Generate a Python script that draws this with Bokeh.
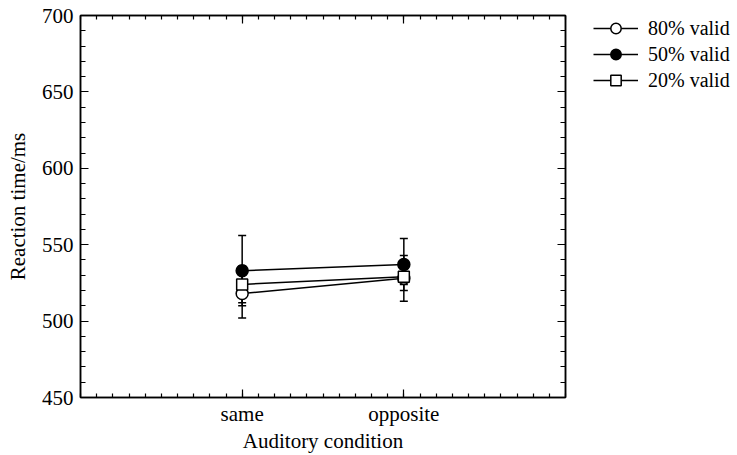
from bokeh.plotting import figure
from bokeh.layouts import row
from bokeh.models import (Range1d, FixedTicker, LinearAxis, Whisker, TeeHead,
                          ColumnDataSource, Legend, LegendItem, SingleIntervalTicker)
from bokeh.embed import file_html
from bokeh.resources import INLINE

# ---- data ----
conditions = ["same", "opposite"]
cond_pos = [1, 2]
series_names = ["80% valid", "50% valid", "20% valid"]
rt_80 = [518, 528]
se_80 = [16, 15]
rt_50 = [533, 537]
se_50 = [23, 17]
rt_20 = [524, 529]
se_20 = [12, 5]
y_major = [450, 500, 550, 600, 650, 700]

FONT = "Liberation Serif"

p = figure(width=580, height=455, output_backend="svg", toolbar_location=None,
           x_range=Range1d(0, 3), y_range=Range1d(450, 700),
           min_border_left=80, min_border_right=15, min_border_top=15,
           min_border_bottom=57)
p.xgrid.visible = False
p.ygrid.visible = False
p.outline_line_color = "black"
p.outline_line_width = 1.5
p.background_fill_color = "white"
p.border_fill_color = "white"

xticker = FixedTicker(ticks=cond_pos, minor_ticks=[i / 10 for i in range(31)])
yticker = SingleIntervalTicker(interval=50, num_minor_ticks=5)


def style_axis(ax):
    ax.axis_line_color = "black"
    ax.axis_line_width = 1.5
    ax.major_tick_line_color = "black"
    ax.minor_tick_line_color = "black"
    ax.major_tick_line_width = 1.2
    ax.minor_tick_line_width = 1.2
    ax.major_tick_in = 8
    ax.major_tick_out = 0
    ax.minor_tick_in = 4
    ax.minor_tick_out = 0
    ax.major_label_text_font = FONT
    ax.major_label_text_color = "black"
    ax.major_label_text_font_size = "21px"
    ax.axis_label_text_font = FONT
    ax.axis_label_text_font_style = "normal"
    ax.axis_label_text_color = "black"
    ax.axis_label_text_font_size = "21px"


p.xaxis.ticker = xticker
p.xaxis.major_label_overrides = {cond_pos[i]: conditions[i] for i in range(len(conditions))}
p.xaxis.axis_label = "Auditory condition"
style_axis(p.xaxis[0])
p.xaxis.major_label_standoff = 4
p.xaxis.axis_label_standoff = 0

p.yaxis.ticker = yticker
p.yaxis.axis_label = "Reaction time/ms"
style_axis(p.yaxis[0])
p.yaxis.minor_tick_in = 5
p.yaxis.major_label_standoff = 7
p.yaxis.axis_label_standoff = 9

top = LinearAxis(ticker=xticker)
style_axis(top)
top.major_label_overrides = {c: "" for c in cond_pos}
top.major_label_standoff = 0
p.add_layout(top, "above")

right = LinearAxis(ticker=yticker)
style_axis(right)
right.major_label_overrides = {v: "" for v in y_major}
right.major_label_standoff = 0
right.minor_tick_in = 5
p.add_layout(right, "right")

series = [
    (series_names[0], rt_80, se_80, "circle", "white", 12),
    (series_names[1], rt_50, se_50, "circle", "black", 12),
    (series_names[2], rt_20, se_20, "square", "white", 11),
]

# error bars
for name, rt, se, marker, fill, size in series:
    src = ColumnDataSource(dict(x=cond_pos,
                                upper=[r + s for r, s in zip(rt, se)],
                                lower=[r - s for r, s in zip(rt, se)]))
    w = Whisker(base="x", upper="upper", lower="lower", source=src,
                dimension="height", line_color="black", line_width=1.5,
                upper_head=TeeHead(size=8, line_color="black", line_width=1.5),
                lower_head=TeeHead(size=8, line_color="black", line_width=1.5))
    p.add_layout(w)

for name, rt, se, marker, fill, size in series:
    src = ColumnDataSource(dict(x=cond_pos, y=rt))
    p.line("x", "y", source=src, line_color="black", line_width=1.5)

# markers: open circle, filled circle, then square on top
for name, rt, se, marker, fill, size in series:
    src = ColumnDataSource(dict(x=cond_pos, y=rt))
    p.scatter("x", "y", source=src, marker=marker, size=size,
              fill_color=fill, line_color="black", line_width=1.5)

# ---- legend panel (separate figure to the right) ----
# its ranges exclude the data, so its renderers only serve as legend keys
lg = figure(width=157, height=455, output_backend="svg", toolbar_location=None,
            x_axis_type=None, y_axis_type=None,
            x_range=Range1d(-2, -1), y_range=Range1d(0, 1),
            min_border_left=13, min_border_right=0, min_border_top=0,
            min_border_bottom=0)
lg.xgrid.visible = False
lg.ygrid.visible = False
lg.outline_line_color = None
lg.background_fill_color = "white"
lg.border_fill_color = "white"

items = []
for name, rt, se, marker, fill, size in series:
    src = ColumnDataSource(dict(x=cond_pos, y=rt))
    ln = lg.line("x", "y", source=src, line_color="black", line_width=1.5)
    sc = lg.scatter("x", "y", source=src, marker=marker, size=size - 1,
                    fill_color=fill, line_color="black", line_width=1.5)
    items.append(LegendItem(label=name, renderers=[ln, sc]))

legend = Legend(items=items, location="top_left")
legend.label_text_font = FONT
legend.label_text_font_size = "20px"
legend.label_text_color = "black"
legend.glyph_width = 45
legend.glyph_height = 26
legend.label_height = 26
legend.label_standoff = 10
legend.spacing = 0
legend.padding = 0
legend.margin = 0
legend.border_line_color = None
legend.background_fill_alpha = 0
lg.add_layout(legend, "center")

layout = row(p, lg, spacing=0)
open("out.html", "w").write(file_html(layout, INLINE))
